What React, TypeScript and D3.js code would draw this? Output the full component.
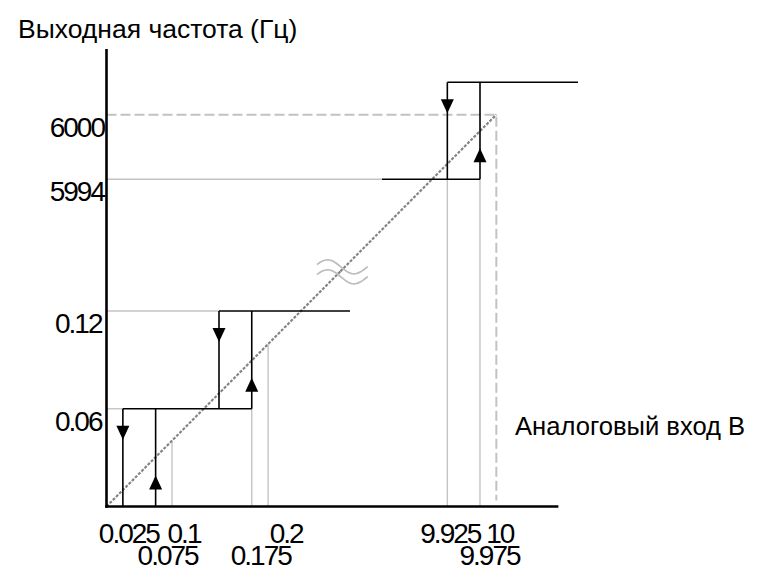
import React from "react";
import * as d3 from "d3";

// ---- data ----
const xTickValues = [0.025, 0.075, 0.1, 0.175, 0.2, 9.925, 9.975, 10];
const xTickLabels = ["0.025", "0.075", "0.1", "0.175", "0.2", "9.925", "9.975", "10"];
const xTickRow = [0, 1, 0, 1, 0, 0, 1, 0];
const yTickValues = [0.06, 0.12, 5994, 6000];
const yTickLabels = ["0.06", "0.12", "5994", "6000"];

// hysteresis steps (schematic)
const stepLow = [0, 0.06, 5994];
const stepHigh = [0.06, 0.12, 6003];
const downInput = [0.025, 0.125, 9.925];
const upInput = [0.075, 0.175, 9.975];

// horizontal output levels
const levelValue = [0.06, 0.12, 5994, 6003];
const levelFrom = [0.025, 0.125, 9.825, 9.925];
const levelTo = [0.175, 0.325, 9.975, 10.125];

// gray guides
const hGuideLevel = [0.06, 0.12, 5994];
const hGuideTo = [0.025, 0.125, 9.825];
const vGuideInput = [0.175, 9.925, 9.975];
const vGuideTop = [0.06, 5994, 5994];
const vDiagGuide = [0.1, 0.2];

const maxInput = 10;
const maxOutput = 6000;

const W = 760;
const H = 566;

export default function App() {
  const x = d3
    .scaleLinear()
    .domain([0, 0.1, 0.125, 0.325, 9.825, 10.125])
    .range([106.5, 172, 219, 350, 382, 578]);
  const y = d3
    .scaleLinear()
    .domain([0, 0.12, 5994, 6003])
    .range([506.5, 311, 179.3, 82.3]);

  const x0 = x(0);
  const y0 = y(0);
  const xAxisEnd = x(10.095);
  const yAxisTop = y(6006.1);

  // diagonal (straight in pixel space)
  const pStart: [number, number] = [x0, y0];
  const pEnd: [number, number] = [x(maxInput), y(maxOutput)];
  const interp = d3.interpolateArray(pStart, pEnd);
  const gapA = interp(0.578) as number[];
  const gapB = interp(0.62) as number[];
  const gapC = interp(0.6) as number[];
  const diagAt = (px: number) => {
    const t = (px - pStart[0]) / (pEnd[0] - pStart[0]);
    return pStart[1] + t * (pEnd[1] - pStart[1]);
  };

  const line = d3.line();

  const arrowDown = (cx: number, tipY: number) =>
    `M${cx - 6.5},${tipY - 14}L${cx + 6.5},${tipY - 14}L${cx},${tipY}Z`;
  const arrowUp = (cx: number, tipY: number) =>
    `M${cx - 6.5},${tipY + 14}L${cx + 6.5},${tipY + 14}L${cx},${tipY}Z`;

  const tilde = (cx: number, cy: number) => {
    const pts: [number, number][] = d3.range(0, 41).map((i) => {
      const t = i / 40;
      return [cx - 25.5 + 51 * t, cy - 6.5 * Math.sin(t * 2 * Math.PI + 0.2) + 2 * (t - 0.5)];
    });
    return d3.line().curve(d3.curveCatmullRom)(pts) as string;
  };

  const fontFamily = "'Liberation Sans', Arial, sans-serif";
  const gray = "#c4c4c4";

  return (
    <svg
      width={W}
      height={H}
      style={{ position: "absolute", left: 0, top: 0, background: "#fff" }}
    >
      {/* gray horizontal guides */}
      {hGuideLevel.map((lv, i) => (
        <line
          key={"hg" + i}
          x1={x0}
          x2={x(hGuideTo[i])}
          y1={y(lv)}
          y2={y(lv)}
          stroke={gray}
          strokeWidth={1.4}
        />
      ))}
      {/* gray vertical guides */}
      {vGuideInput.map((v, i) => (
        <line
          key={"vg" + i}
          x1={x(v)}
          x2={x(v)}
          y1={y0}
          y2={y(vGuideTop[i])}
          stroke={gray}
          strokeWidth={1.4}
        />
      ))}
      {vDiagGuide.map((v, i) => (
        <line
          key={"vd" + i}
          x1={x(v)}
          x2={x(v)}
          y1={y0}
          y2={diagAt(x(v))}
          stroke={gray}
          strokeWidth={1.4}
        />
      ))}
      {/* dashed max lines */}
      <path
        d={line([
          [x0, y(maxOutput)],
          [x(maxInput), y(maxOutput)],
          [x(maxInput), y0 - 6],
        ]) as string}
        fill="none"
        stroke="#c2c2c2"
        strokeWidth={2}
        strokeDasharray="10,4"
      />
      {/* diagonal */}
      <path
        d={line([pStart, [gapA[0], gapA[1]]]) as string}
        stroke="#858585"
        strokeWidth={2.2}
        strokeDasharray="3,1.5"
        fill="none"
      />
      <path
        d={line([[gapB[0], gapB[1]], pEnd]) as string}
        stroke="#858585"
        strokeWidth={2.2}
        strokeDasharray="3,1.5"
        fill="none"
      />
      {/* break symbol */}
      <path d={tilde(gapC[0] + 2, gapC[1] - 4.5)} fill="none" stroke="#bdbdbd" strokeWidth={1.7} />
      <path d={tilde(gapC[0] + 2, gapC[1] + 5.5)} fill="none" stroke="#bdbdbd" strokeWidth={1.7} />

      {/* black step lines */}
      {levelValue.map((lv, i) => (
        <line
          key={"lv" + i}
          x1={x(levelFrom[i])}
          x2={x(levelTo[i])}
          y1={y(lv)}
          y2={y(lv)}
          stroke="#000"
          strokeWidth={1.6}
        />
      ))}
      {downInput.map((v, i) => (
        <g key={"dn" + i}>
          <line x1={x(v)} x2={x(v)} y1={y(stepHigh[i])} y2={y(stepLow[i])} stroke="#000" strokeWidth={1.6} />
          <path d={arrowDown(x(v), y(stepHigh[i]) + 31)} fill="#000" />
        </g>
      ))}
      {upInput.map((v, i) => (
        <g key={"up" + i}>
          <line x1={x(v)} x2={x(v)} y1={y(stepHigh[i])} y2={y(stepLow[i])} stroke="#000" strokeWidth={1.6} />
          <path d={arrowUp(x(v), y(stepLow[i]) - 31)} fill="#000" />
        </g>
      ))}

      {/* axes */}
      <line x1={x0} x2={x0} y1={yAxisTop} y2={y0 + 1.3} stroke="#000" strokeWidth={2.6} />
      <line x1={x0 - 1.3} x2={xAxisEnd} y1={y0} y2={y0} stroke="#000" strokeWidth={2.6} />

      {/* y tick labels */}
      {yTickValues.map((v, i) => (
        <text
          key={"yt" + i}
          x={v > 1 ? 104 : 101.5}
          y={y(v) + 22}
          textAnchor="end"
          fontFamily={fontFamily}
          fontSize={28}
          letterSpacing={-2}
          fill="#000"
        >
          {yTickLabels[i]}
        </text>
      ))}
      {/* x tick labels */}
      {xTickValues.map((v, i) => {
        const offsets = [5, 11, 11, 8, 17, 2, 8.5, 2.5];
        return (
          <text
            key={"xt" + i}
            x={x(v) + offsets[i] + 1}
            y={xTickRow[i] === 0 ? 543 : 565}
            textAnchor="middle"
            fontFamily={fontFamily}
            fontSize={28}
            letterSpacing={-2}
            fill="#000"
          >
            {xTickLabels[i]}
          </text>
        );
      })}

      {/* axis titles */}
      <text x={18} y={38} fontFamily={fontFamily} fontSize={26.5} fill="#000">
        Выходная частота (Гц)
      </text>
      <text x={515} y={435} fontFamily={fontFamily} fontSize={25.6} fill="#000">
        Аналоговый вход В
      </text>
    </svg>
  );
}
